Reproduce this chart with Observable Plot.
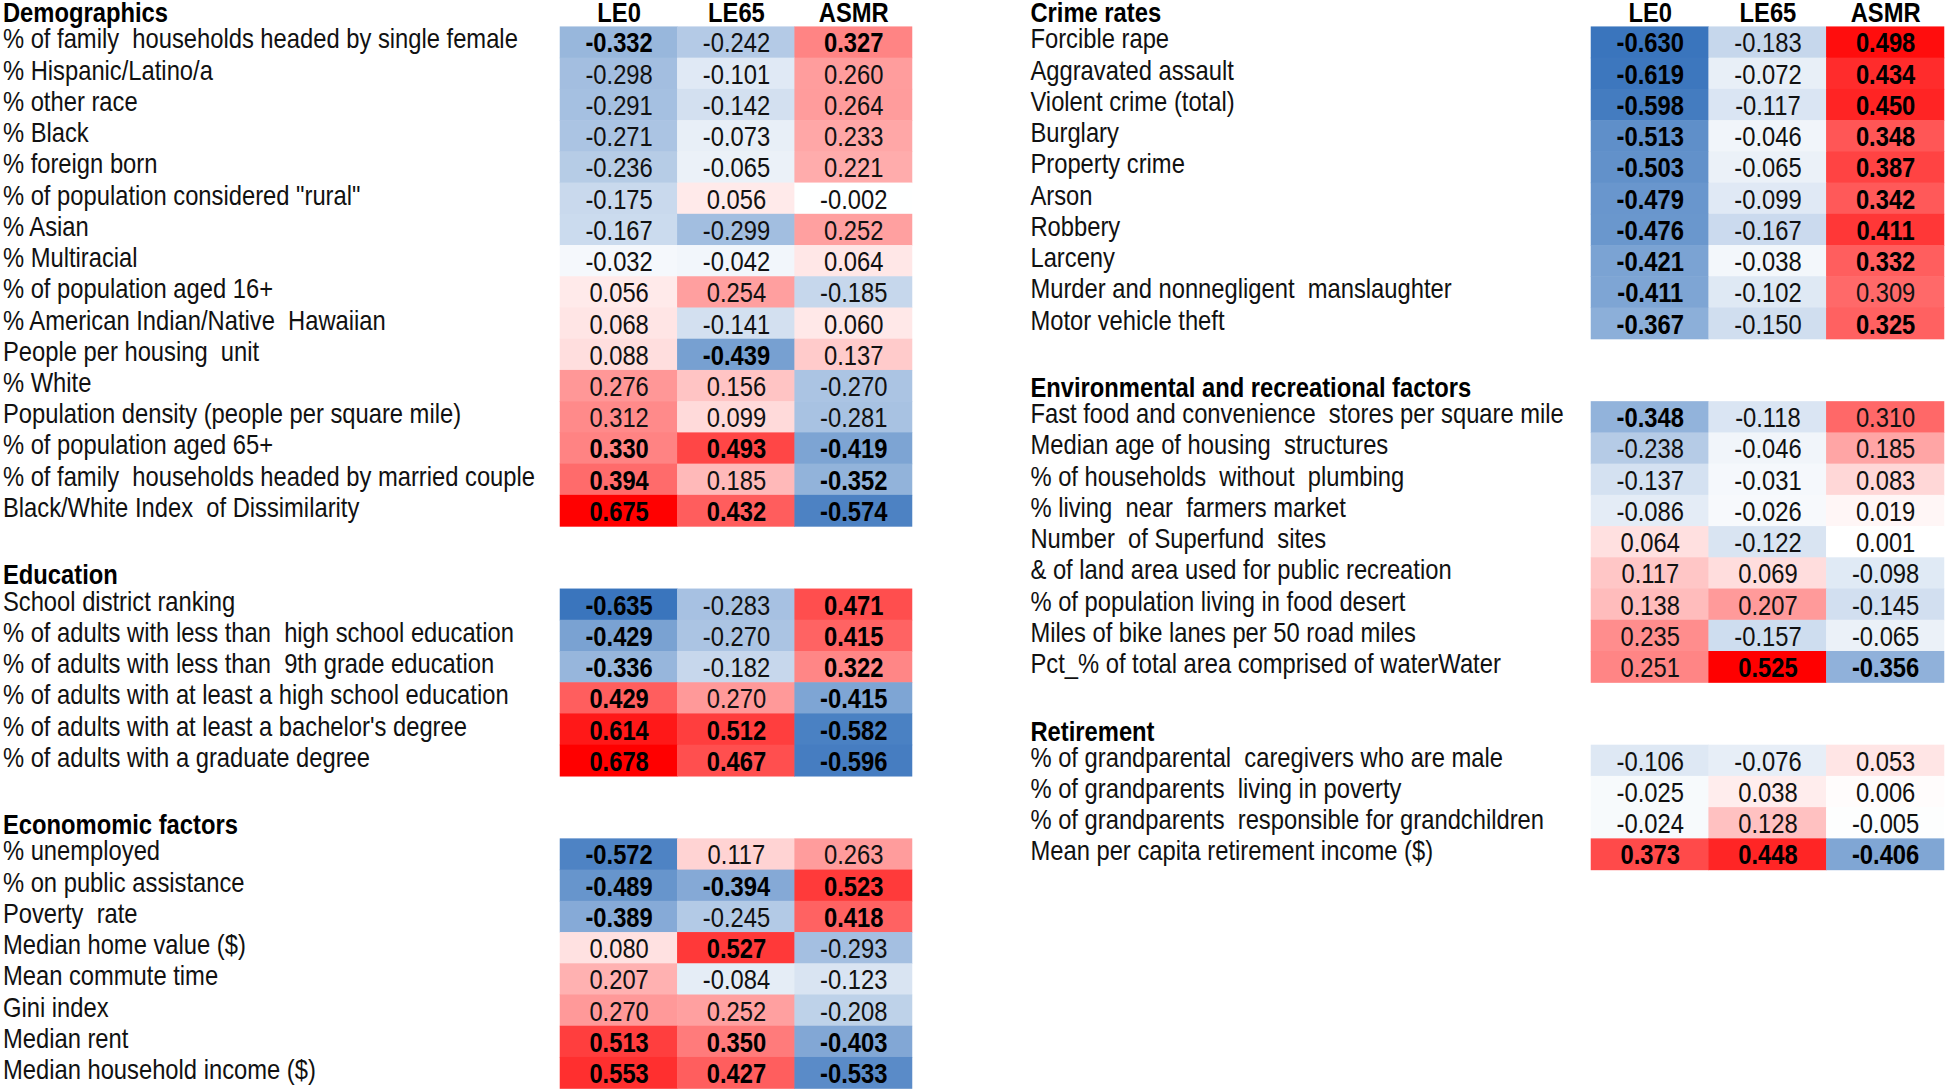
<!DOCTYPE html>
<html><head><meta charset="utf-8">
<script src="https://cdn.jsdelivr.net/npm/d3@7"></script>
<script src="https://cdn.jsdelivr.net/npm/@observablehq/plot@0.6"></script>
<style>
html,body{margin:0;padding:0;background:#fff;overflow:hidden;}
#chart{display:flex;position:absolute;left:0;top:0;}
#chart text{white-space:pre;}
</style></head><body><div id="chart"></div>
<script>
const columns = ["LE0", "LE65", "ASMR"];

const demoTitle = "Demographics";
const demoLabels = ["% of family  households headed by single female", "% Hispanic/Latino/a", "% other race", "% Black", "% foreign born", "% of population considered \"rural\"", "% Asian", "% Multiracial", "% of population aged 16+", "% American Indian/Native  Hawaiian", "People per housing  unit", "% White", "Population density (people per square mile)", "% of population aged 65+", "% of family  households headed by married couple", "Black/White Index  of Dissimilarity"];
const demoLE0 = [-0.332, -0.298, -0.291, -0.271, -0.236, -0.175, -0.167, -0.032, 0.056, 0.068, 0.088, 0.276, 0.312, 0.330, 0.394, 0.675];
const demoLE65 = [-0.242, -0.101, -0.142, -0.073, -0.065, 0.056, -0.299, -0.042, 0.254, -0.141, -0.439, 0.156, 0.099, 0.493, 0.185, 0.432];
const demoASMR = [0.327, 0.260, 0.264, 0.233, 0.221, -0.002, 0.252, 0.064, -0.185, 0.060, 0.137, -0.270, -0.281, -0.419, -0.352, -0.574];

const eduTitle = "Education";
const eduLabels = ["School district ranking", "% of adults with less than  high school education", "% of adults with less than  9th grade education", "% of adults with at least a high school education", "% of adults with at least a bachelor's degree", "% of adults with a graduate degree"];
const eduLE0 = [-0.635, -0.429, -0.336, 0.429, 0.614, 0.678];
const eduLE65 = [-0.283, -0.270, -0.182, 0.270, 0.512, 0.467];
const eduASMR = [0.471, 0.415, 0.322, -0.415, -0.582, -0.596];

const econTitle = "Economomic factors";
const econLabels = ["% unemployed", "% on public assistance", "Poverty  rate", "Median home value ($)", "Mean commute time", "Gini index", "Median rent", "Median household income ($)"];
const econLE0 = [-0.572, -0.489, -0.389, 0.080, 0.207, 0.270, 0.513, 0.553];
const econLE65 = [0.117, -0.394, -0.245, 0.527, -0.084, 0.252, 0.350, 0.427];
const econASMR = [0.263, 0.523, 0.418, -0.293, -0.123, -0.208, -0.403, -0.533];

const crimeTitle = "Crime rates";
const crimeLabels = ["Forcible rape", "Aggravated assault", "Violent crime (total)", "Burglary", "Property crime", "Arson", "Robbery", "Larceny", "Murder and nonnegligent  manslaughter", "Motor vehicle theft"];
const crimeLE0 = [-0.630, -0.619, -0.598, -0.513, -0.503, -0.479, -0.476, -0.421, -0.411, -0.367];
const crimeLE65 = [-0.183, -0.072, -0.117, -0.046, -0.065, -0.099, -0.167, -0.038, -0.102, -0.150];
const crimeASMR = [0.498, 0.434, 0.450, 0.348, 0.387, 0.342, 0.411, 0.332, 0.309, 0.325];

const envTitle = "Environmental and recreational factors";
const envLabels = ["Fast food and convenience  stores per square mile", "Median age of housing  structures", "% of households  without  plumbing", "% living  near  farmers market", "Number  of Superfund  sites", "& of land area used for public recreation", "% of population living in food desert", "Miles of bike lanes per 50 road miles", "Pct_% of total area comprised of waterWater"];
const envLE0 = [-0.348, -0.238, -0.137, -0.086, 0.064, 0.117, 0.138, 0.235, 0.251];
const envLE65 = [-0.118, -0.046, -0.031, -0.026, -0.122, 0.069, 0.207, -0.157, 0.525];
const envASMR = [0.310, 0.185, 0.083, 0.019, 0.001, -0.098, -0.145, -0.065, -0.356];

const retTitle = "Retirement";
const retLabels = ["% of grandparental  caregivers who are male", "% of grandparents  living in poverty", "% of grandparents  responsible for grandchildren", "Mean per capita retirement income ($)"];
const retLE0 = [-0.106, -0.025, -0.024, 0.373];
const retLE65 = [-0.076, 0.038, 0.128, 0.448];
const retASMR = [0.053, 0.006, -0.005, -0.406];

// ---- build panel tables ----
function buildPanel(sections) {
  const titles = [], labels = [], cells = [];
  let row = 0;
  sections.forEach((s, i) => {
    if (i > 0) row++;
    titles.push({row, title: s.title});
    row++;
    s.labels.forEach((lab, j) => {
      labels.push({row, label: lab});
      columns.forEach(c => cells.push({row, col: c, value: s[c][j]}));
      row++;
    });
  });
  return {titles, labels, cells};
}

const leftPanel = buildPanel([
  {title: demoTitle, labels: demoLabels, LE0: demoLE0, LE65: demoLE65, ASMR: demoASMR},
  {title: eduTitle, labels: eduLabels, LE0: eduLE0, LE65: eduLE65, ASMR: eduASMR},
  {title: econTitle, labels: econLabels, LE0: econLE0, LE65: econLE65, ASMR: econASMR}
]);
const rightPanel = buildPanel([
  {title: crimeTitle, labels: crimeLabels, LE0: crimeLE0, LE65: crimeLE65, ASMR: crimeASMR},
  {title: envTitle, labels: envLabels, LE0: envLE0, LE65: envLE65, ASMR: envASMR},
  {title: retTitle, labels: retLabels, LE0: retLE0, LE65: retLE65, ASMR: retASMR}
]);

const K = 0.88;          // horizontal compression of the text face
const FS = 27;
const ROWS = 35;
const isBold = d => Math.abs(d.value) >= 0.32;

function drawPanel(p, o) {
  const ext = d3.extent(p.cells, d => d.value);
  const vw = o.width / K;
  const svg = Plot.plot({
    width: vw, height: 1091,
    margin: 0, marginLeft: o.labelX / K,
    x: {type: "band", domain: columns, range: [o.x0 / K, o.x1 / K], padding: 0, round: false, axis: null},
    y: {type: "band", domain: d3.range(ROWS), range: [-4.5, 1088.5], padding: 0, round: false, axis: null},
    color: {type: "diverging", domain: ext, pivot: 0, symmetric: false,
            interpolate: d3.piecewise(d3.interpolateRgb, ["#3A75BD", "#ffffff", "#ff0000"])},
    style: {fontFamily: "'Liberation Sans', Arial, sans-serif", fontSize: FS + "px", background: "white", color: "black", overflow: "visible"},
    marks: [
      Plot.cell(p.cells, {x: "col", y: "row", fill: "value", inset: -0.3}),
      Plot.text(p.cells.filter(d => !isBold(d)), {x: "col", y: "row", text: d => d.value.toFixed(3), fontSize: FS, fill: "#111", dy: 1}),
      Plot.text(p.cells.filter(isBold), {x: "col", y: "row", text: d => d.value.toFixed(3), fontSize: FS, fill: "#000", fontWeight: "bold", dy: 1}),
      Plot.text(p.labels, {y: "row", text: "label", frameAnchor: "left", textAnchor: "start", fontSize: FS, fill: "#111", dy: -3}),
      Plot.text(p.titles, {y: "row", text: "title", frameAnchor: "left", textAnchor: "start", fontSize: FS, fill: "#000", fontWeight: "bold", dy: 2}),
      Plot.text(columns, {x: d => d, y: () => 0, text: d => d, fontSize: FS, fill: "#000", fontWeight: "bold", dy: 2})
    ]
  });
  svg.setAttribute("width", o.width);
  svg.setAttribute("height", 1091);
  svg.setAttribute("preserveAspectRatio", "none");
  svg.style.width = o.width + "px";
  svg.style.height = "1091px";
  svg.style.maxWidth = "none";
  svg.style.display = "block";
  return svg;
}

const chart = document.getElementById("chart");
chart.appendChild(drawPanel(leftPanel, {width: 1000, labelX: 2.5, x0: 560, x1: 912}));
chart.appendChild(drawPanel(rightPanel, {width: 946, labelX: 30, x0: 591, x1: 944}));
</script>
</body></html>
